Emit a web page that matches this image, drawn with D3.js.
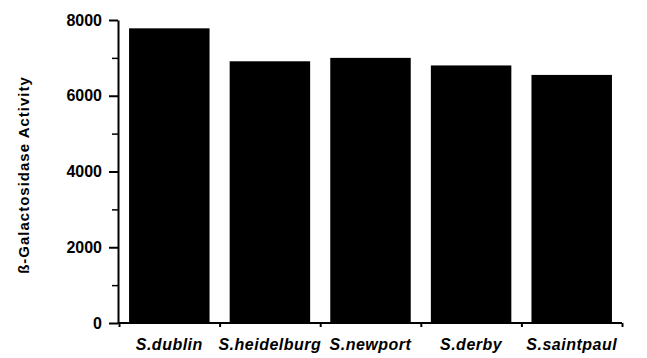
<!DOCTYPE html>
<html>
<head>
<meta charset="utf-8">
<script src="https://cdn.jsdelivr.net/npm/d3@7"></script>
<style>
  body { margin: 0; background: #fff; }
  text { font-family: "Liberation Sans", Arial, sans-serif; font-weight: bold; fill: #000; }
</style>
</head>
<body>
<script>
// data
var strains = ["S.dublin", "S.heidelburg", "S.newport", "S.derby", "S.saintpaul"];
var activity = [7780, 6910, 7000, 6800, 6550];
var yTicks = [0, 2000, 4000, 6000, 8000];

var w = 647, h = 358;

var svg = d3.select("body").append("svg")
    .attr("width", w)
    .attr("height", h);

var x = d3.scaleBand()
    .domain(strains)
    .range([119, 622])
    .paddingInner(0.2)
    .paddingOuter(0.1);

var y = d3.scaleLinear()
    .domain([0, 8000])
    .range([323, 20]);

// bars
svg.selectAll("rect.bar")
    .data(strains)
    .enter().append("rect")
    .attr("class", "bar")
    .attr("x", function(d) { return x(d); })
    .attr("width", x.bandwidth())
    .attr("y", function(d, i) { return y(activity[i]); })
    .attr("height", function(d, i) { return y(0) - y(activity[i]); })
    .attr("fill", "#000");

// minor ticks on y
var yMinor = svg.append("g")
    .attr("transform", "translate(118,0)")
    .call(d3.axisLeft(y).tickValues(d3.range(1000, 8000, 2000)).tickSize(6).tickFormat(""));
yMinor.select(".domain").remove();

// y axis
var yAxis = svg.append("g")
    .attr("transform", "translate(118,0)")
    .call(d3.axisLeft(y).tickValues(yTicks).tickSize(9).tickSizeOuter(0).tickPadding(7).tickFormat(d3.format("d")));
yAxis.selectAll("text").style("font-size", "16px");
yAxis.selectAll("line, path").attr("stroke", "#000").attr("stroke-width", 2);
yMinor.selectAll("line").attr("stroke", "#000").attr("stroke-width", 1.5);

// x axis: ticks sit between bars
var sepTicks = strains.map(function(d) { return x(d) - x.step() * x.paddingInner() / 2; });
sepTicks.push(x(strains[strains.length - 1]) + x.bandwidth() + x.step() * x.paddingInner() / 2);
var xl = d3.scaleLinear().domain([0, 1]).range([0, 1]);
var xAxis = svg.append("g")
    .attr("transform", "translate(0," + y(0) + ")")
    .call(d3.axisBottom(xl).tickValues(sepTicks).tickSize(4).tickSizeOuter(0).tickFormat(""));
xAxis.select(".domain").attr("d", "M118,0H" + sepTicks[sepTicks.length - 1]);
xAxis.selectAll("line, path").attr("stroke", "#000").attr("stroke-width", 2);

// category labels
svg.selectAll("text.cat")
    .data(strains)
    .enter().append("text")
    .attr("class", "cat")
    .attr("x", function(d) { return x(d) + x.bandwidth() / 2; })
    .attr("y", 350)
    .attr("text-anchor", "middle")
    .style("font-size", "16px")
    .style("font-style", "italic")
    .style("letter-spacing", "0.5px")
    .text(function(d) { return d; });

// y title
svg.append("text")
    .attr("transform", "translate(29,175) rotate(-90)")
    .attr("text-anchor", "middle")
    .style("font-size", "15px")
    .style("letter-spacing", "1px")
    .text("ß-Galactosidase Activity");
</script>
</body>
</html>
